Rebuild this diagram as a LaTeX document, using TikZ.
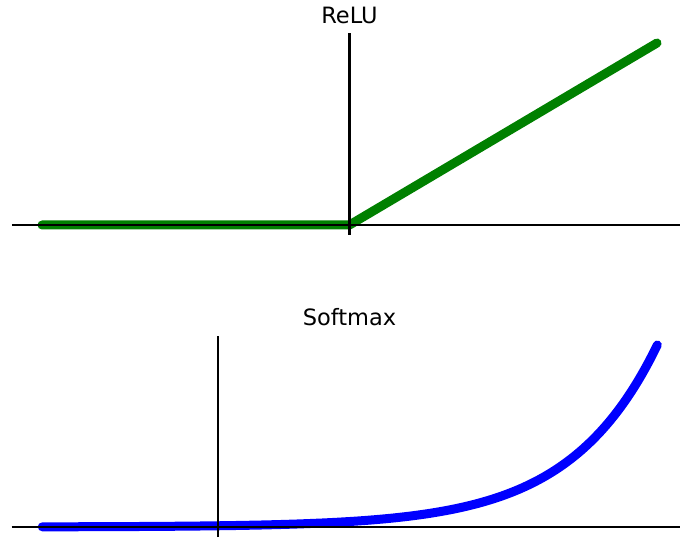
\documentclass[tikz,border=0pt]{standalone}
\usepackage{fontspec}
\setmainfont{DejaVu Sans}
\usepackage{tikz}
\definecolor{mplgreen}{RGB}{0,128,0}
\definecolor{mplblue}{RGB}{0,0,255}
\tikzset{
  curve/.style={line width=9pt,line cap=round,line join=round},
  spine/.style={line width=2.8pt,black},
  title/.style={anchor=base,font=\fontsize{22.5}{26}\selectfont}
}

\begin{document}
\begin{tikzpicture}[x=1pt,y=1pt]
  \useasboundingbox (0,0) rectangle (680,538);
  % ReLU
  \begin{scope}[shift={(349.5,313)},xscale=61.5,yscale=36.4]
    \draw[curve,mplgreen] (-5,0) -- (0,0) -- (5,5);
    \draw[spine] (-5.49,0) -- (5.38,0);
    \draw[spine] (0,-0.27) -- (0,5.27);
  \end{scope}
  \node[title] (relutitle) at (349.5,514) {ReLU};
  % Softmax
  \begin{scope}[shift={(218,11)},xscale=87.86,yscale=182]
    \draw[curve,mplblue] plot[domain=-2:5,samples=120,smooth] (\x,{exp(\x-5)});
    \draw[spine] (-2.35,0) -- (5.26,0);
    \draw[spine] (0,-0.055) -- (0,1.05);
  \end{scope}
  \node[title] (softtitle) at (349.5,212) {Softmax};
\end{tikzpicture}
\end{document}
